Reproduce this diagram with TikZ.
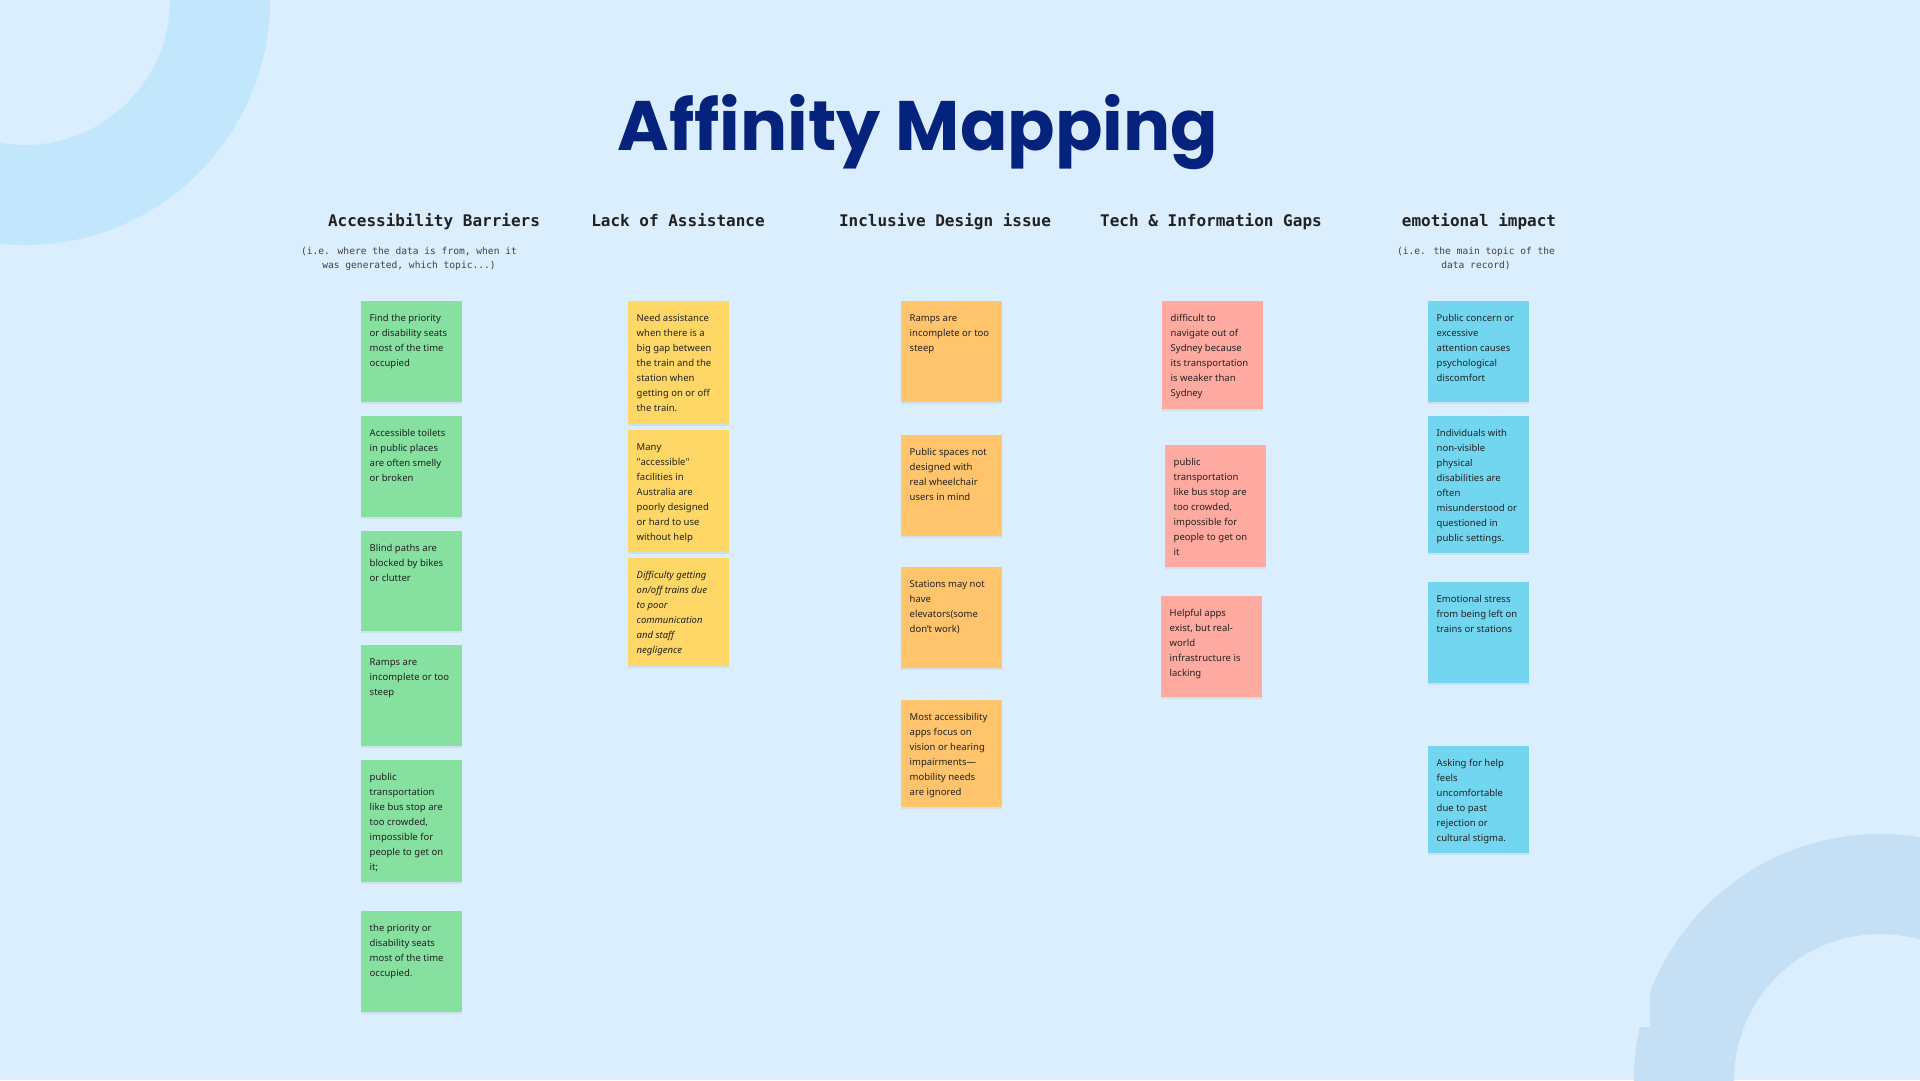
\documentclass[tikz,border=0pt]{standalone}
\usepackage{fontspec}
\setmainfont{Noto Sans}
\newfontfamily\titlefont{Poppins}
\newfontfamily\headfont{DejaVu Sans Mono}
\usepackage{tikz}
\usetikzlibrary{positioning, shadows}
\definecolor{cBg}{RGB}{218,238,253}
\definecolor{cRingA}{RGB}{194,230,251}
\definecolor{cRingB}{RGB}{197,224,244}
\definecolor{cNavy}{RGB}{5,35,125}
\definecolor{cInk}{RGB}{33,33,33}
\definecolor{cGreen}{RGB}{134,224,160}
\definecolor{cYellow}{RGB}{255,215,102}
\definecolor{cOrange}{RGB}{255,196,108}
\definecolor{cPink}{RGB}{255,170,160}
\definecolor{cBlue}{RGB}{115,214,240}
\tikzset{
	note/.style   ={rectangle, anchor=north west, inner sep=0pt, text=cInk, font=\fontsize{9.5}{15}\selectfont,
	                 drop shadow={shadow xshift=0pt, shadow yshift=-2pt, opacity=0.12}},
	colhead/.style={anchor=base, text=cInk, font=\headfont\bfseries\fontsize{16}{19}\selectfont},
	colsub/.style ={anchor=base, text=cInk!85, align=center, font=\headfont\fontsize{9.6}{14}\selectfont},
}
\newcommand{\sticky}[6]{\node[note, fill=#2] (#1) at (#3,#4)
	{\parbox[c][#5pt][t]{101pt}{\raggedright\leftskip=8.5pt\rule{0pt}{20.5pt}#6}};}

\begin{document}
\begin{tikzpicture}[x=1pt, y=-1pt]
	\useasboundingbox (0,0) rectangle (1920,1080);
	\fill[cBg] (0,0) rectangle (1920,1080);
	\begin{scope}
		\clip (0,0) rectangle (1920,1080);
		\fill[cRingA, even odd rule] (25,0) circle (245pt) (25,0) circle (145pt);
		\fill[cRingB, even odd rule] (1880,1080) circle (246pt) (1880,1080) circle (146pt);
		\fill[cBg] (1628,995) rectangle (1650,1027);
	\end{scope}

	\node[anchor=base, text=cNavy, font=\titlefont\bfseries\fontsize{70}{74}\selectfont] (title) at (918,150) {Affinity Mapping};

	% column headings
	\node[colhead] (hBar)  at (434,226) {Accessibility Barriers};
	\node[colhead] (hHelp) at (678,226) {Lack of Assistance};
	\node[colhead] (hDes)  at (945,226) {Inclusive Design issue};
	\node[colhead] (hTech) at (1211,226) {Tech \& Information Gaps};
	\node[colhead] (hEmo)  at (1479,226) {emotional impact};
	\node[colsub] (sBar) at (409,268) {(i.e. where the data is from, when it\\was generated, which topic...)};
	\node[colsub] (sEmo) at (1476,268) {(i.e. the main topic of the\\data record)};

	% accessibility barriers
	\sticky{bar1}{cGreen}{361}{301}{101}{Find the priority\\or disability seats\\most of the time\\occupied}
	\sticky{bar2}{cGreen}{361}{416}{101}{Accessible toilets\\in public places\\are often smelly\\or broken}
	\sticky{bar3}{cGreen}{361}{531}{100}{Blind paths are\\blocked by bikes\\or clutter}
	\sticky{bar4}{cGreen}{361}{645}{101}{Ramps are\\incomplete or too\\steep}
	\sticky{bar5}{cGreen}{361}{760}{122}{public\\transportation\\like bus stop are\\too crowded,\\impossible for\\people to get on\\it;}
	\sticky{bar6}{cGreen}{361}{911}{101}{the priority or\\disability seats\\most of the time\\occupied.}

	% lack of assistance
	\sticky{help1}{cYellow}{628}{301}{123}{Need assistance\\when there is a\\big gap between\\the train and the\\station when\\getting on or off\\the train.}
	\sticky{help2}{cYellow}{628}{430}{122}{Many\\\textquotedbl accessible\textquotedbl\\facilities in\\Australia are\\poorly designed\\or hard to use\\without help}
	\sticky{help3}{cYellow}{628}{558}{108}{\itshape Difficulty getting\\on/off trains due\\to poor\\communication\\and staff\\negligence}

	% inclusive design
	\sticky{des1}{cOrange}{901}{301}{101}{Ramps are\\incomplete or too\\steep}
	\sticky{des2}{cOrange}{901}{435}{101}{Public spaces not\\designed with\\real wheelchair\\users in mind}
	\sticky{des3}{cOrange}{901}{567}{101}{Stations may not\\have\\elevators(some\\don't work)}
	\sticky{des4}{cOrange}{901}{700}{107}{Most accessibility\\apps focus on\\vision or hearing\\impairments—\\mobility needs\\are ignored}

	% tech and information
	\sticky{tech1}{cPink}{1162}{301}{108}{difficult to\\navigate out of\\Sydney because\\its transportation\\is weaker than\\Sydney}
	\sticky{tech2}{cPink}{1165}{445}{122}{public\\transportation\\like bus stop are\\too crowded,\\impossible for\\people to get on\\it}
	\sticky{tech3}{cPink}{1161}{596}{101}{Helpful apps\\exist, but real-\\world\\infrastructure is\\lacking}

	% emotional impact
	\sticky{emo1}{cBlue}{1428}{301}{101}{Public concern or\\excessive\\attention causes\\psychological\\discomfort}
	\sticky{emo2}{cBlue}{1428}{416}{137}{Individuals with\\non-visible\\physical\\disabilities are\\often\\misunderstood or\\questioned in\\public settings.}
	\sticky{emo3}{cBlue}{1428}{582}{101}{Emotional stress\\from being left on\\trains or stations}
	\sticky{emo4}{cBlue}{1428}{746}{107}{Asking for help\\feels\\uncomfortable\\due to past\\rejection or\\cultural stigma.}
\end{tikzpicture}
\end{document}
